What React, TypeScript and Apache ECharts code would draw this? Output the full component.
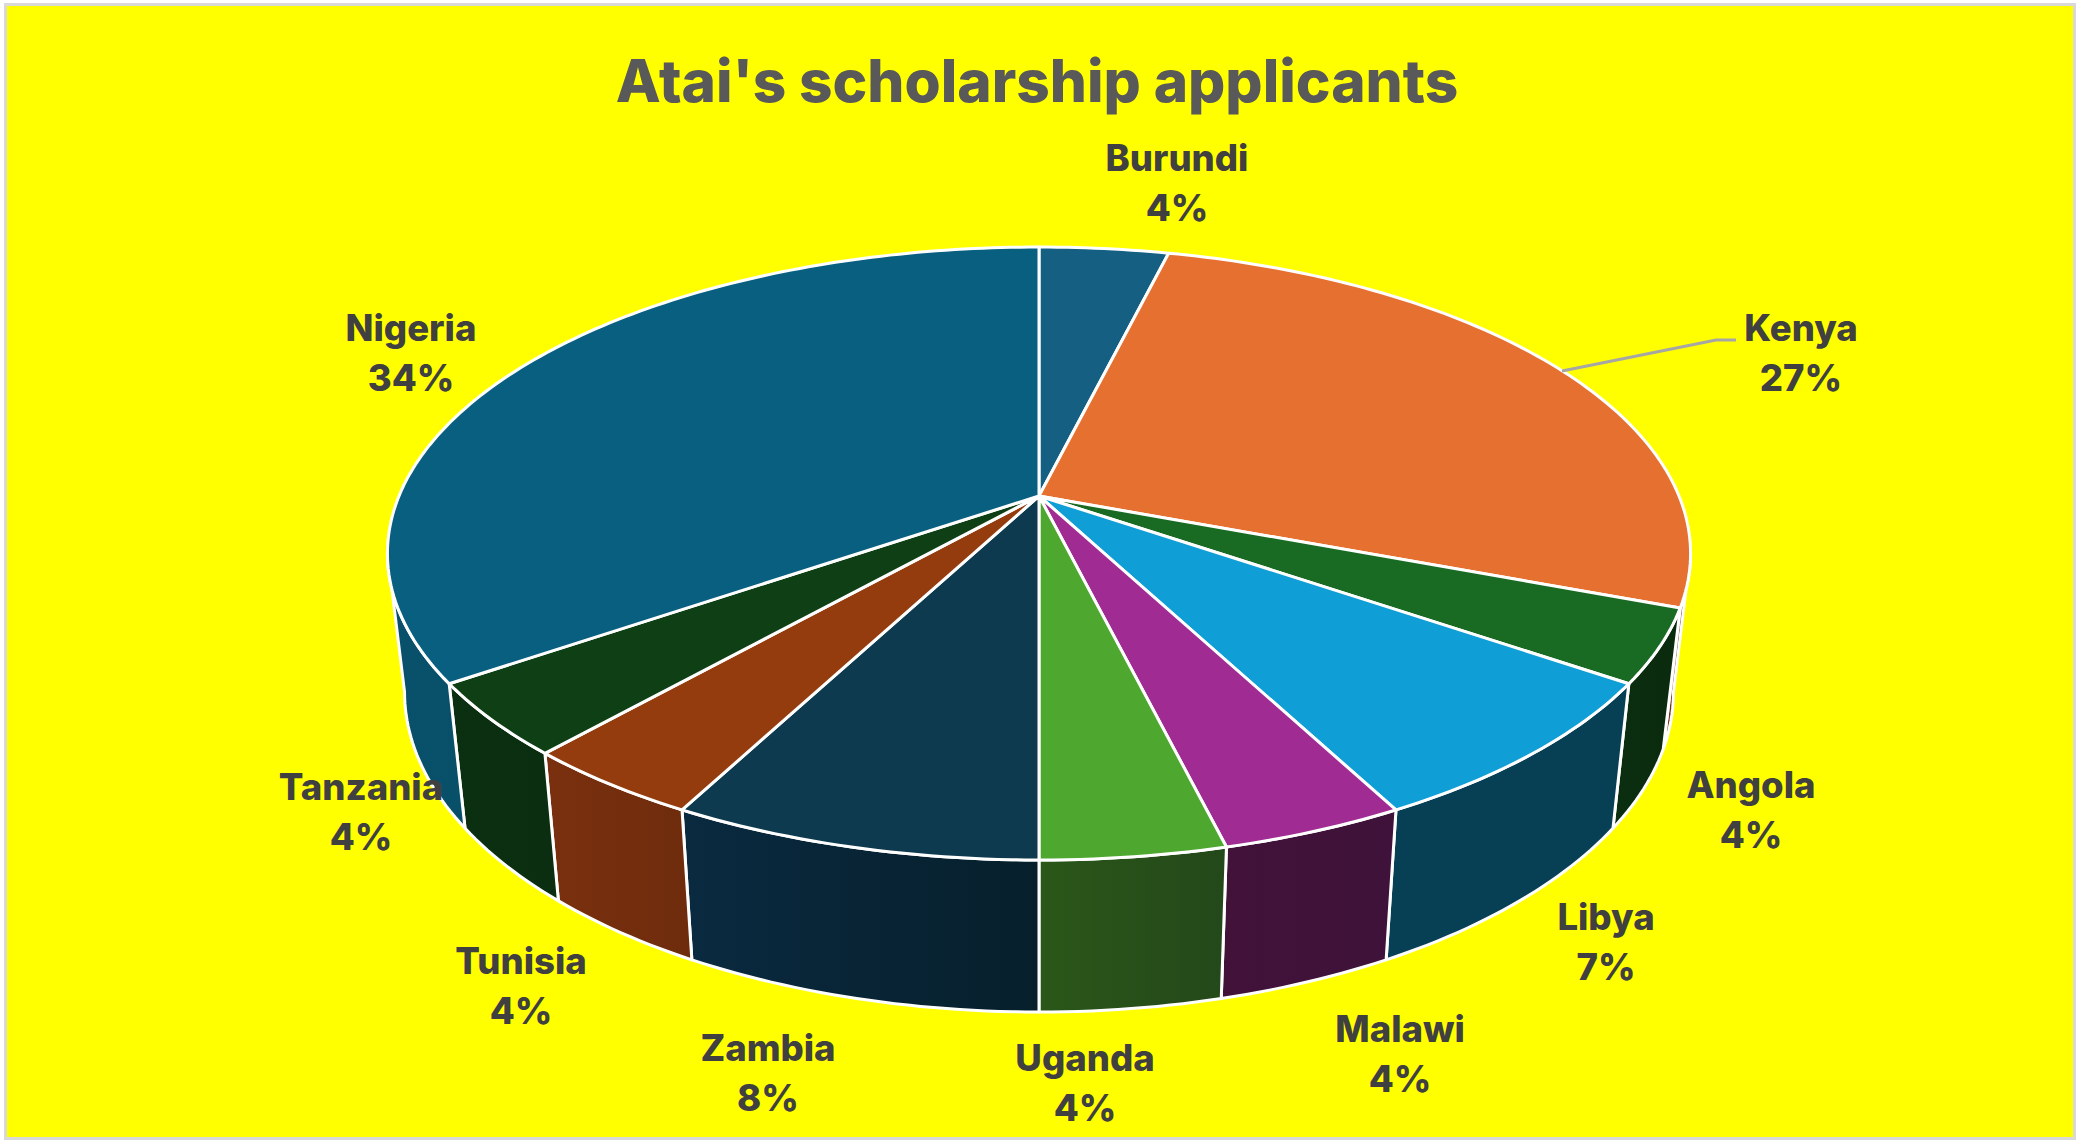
import React, { useEffect, useRef } from "react";
import * as echarts from "echarts";

const countries = ["Burundi", "Kenya", "Angola", "Libya", "Malawi", "Uganda", "Zambia", "Tunisia", "Tanzania", "Nigeria"];
const sliceValues = [3.85, 26.9, 3.85, 7.7, 3.85, 3.85, 7.7, 3.85, 3.85, 34.6];
const percentLabels = ["4%", "27%", "4%", "7%", "4%", "4%", "8%", "4%", "4%", "34%"];
const topColors = ["#156082", "#E6702F", "#196B24", "#0F9ED5", "#A02B93", "#4EA72E", "#0D3A4E", "#943C0E", "#0F3F15", "#095F80"];
const sideLeftColors = ["#0D3A4E", "#6E3316", "#0B2E10", "#073F55", "#421239", "#2B5719", "#0A2A40", "#7A300E", "#0B2F11", "#09506C"];
const sideRightColors = ["#0D3A4E", "#6E3316", "#0B2A0E", "#073F55", "#3E123A", "#23481A", "#061F2B", "#6E2C0D", "#0B2E10", "#084F68"];
const labelX = [1177, 1801, 1751, 1606, 1400, 1085, 768, 521, 361, 411];
const labelY = [183, 353, 810, 942, 1054, 1083, 1073, 986, 812, 353];

const title = "Atai's scholarship applicants";
const FONT = "Inter";

const top = { cx: 1039, y0: 496, a: 640, b: 295.7, p: 0.1876 };
const bottom = { cx: 1039, y0: 632.4, a: 623.4, b: 309, p: 0.186 };
const SILHOUETTE = 100.7;

const total = sliceValues.reduce((s, v) => s + v, 0);
function sliceRange(i: number): [number, number] {
  let before = 0;
  for (let k = 0; k < i; k++) before += sliceValues[k];
  return [(before / total) * 360, ((before + sliceValues[i]) / total) * 360];
}
function project(g: typeof top, deg: number): number[] {
  const t = (deg * Math.PI) / 180;
  const u = Math.sin(t);
  const v = -Math.cos(t);
  const d = 1 - g.p * v;
  return [g.cx + (g.a * u) / d, g.y0 + (g.b * v) / d];
}
function arc(g: typeof top, from: number, to: number): number[][] {
  const n = Math.max(2, Math.ceil(Math.abs(to - from)));
  const pts: number[][] = [];
  for (let k = 0; k <= n; k++) pts.push(project(g, from + ((to - from) * k) / n));
  return pts;
}

const indices = countries.map((_, i) => i);
const WHITE = "#FFFFFF";

export default function App() {
  const ref = useRef<HTMLDivElement>(null);
  useEffect(() => {
    const chart = echarts.init(ref.current!, undefined, { renderer: "svg" });
    chart.setOption({
      animation: false,
      backgroundColor: "#FFFFFF",
      title: {
        text: title,
        left: 1032,
        top: 43,
        textAlign: "center",
        textStyle: { fontFamily: FONT, fontSize: 58.5, fontWeight: 800, color: "#595959", lineHeight: 64 },
      },
      graphic: [
        {
          type: "rect",
          z: -10,
          shape: { x: 5.5, y: 4.5, width: 2069, height: 1134 },
          style: { fill: "#FFFF00", stroke: "#D9D9D9", lineWidth: 3 },
        },
      ],
      series: [
        {
          type: "custom",
          coordinateSystem: "none",
          z: 2,
          silent: true,
          data: indices,
          renderItem: (params: any) => {
            const i = params.dataIndex;
            const [s, e] = sliceRange(i);
            const from = Math.max(s, SILHOUETTE);
            const to = Math.min(e, 360 - SILHOUETTE);
            if (to <= from) return { type: "group", children: [] };
            const points = [...arc(top, from, to), ...arc(bottom, to, from)];
            return {
              type: "polygon",
              shape: { points },
              style: {
                fill: new echarts.graphic.LinearGradient(0, 0, 1, 0, [
                  { offset: 0, color: sideLeftColors[i] },
                  { offset: 1, color: sideRightColors[i] },
                ]),
                stroke: WHITE,
                lineWidth: 3,
                lineJoin: "round",
              },
            };
          },
        },
        {
          type: "custom",
          coordinateSystem: "none",
          z: 3,
          silent: true,
          data: indices,
          renderItem: (params: any) => {
            const i = params.dataIndex;
            const [s, e] = sliceRange(i);
            const points = [[top.cx, top.y0], ...arc(top, s, e)];
            return {
              type: "polygon",
              shape: { points },
              style: { fill: topColors[i], stroke: WHITE, lineWidth: 3, lineJoin: "round" },
            };
          },
        },
        {
          type: "custom",
          coordinateSystem: "none",
          z: 4,
          silent: true,
          data: indices,
          renderItem: (params: any) => {
            const i = params.dataIndex;
            const children: any[] = [
              {
                type: "text",
                style: {
                  text: countries[i] + "\n" + percentLabels[i],
                  x: labelX[i],
                  y: labelY[i],
                  align: "center",
                  verticalAlign: "middle",
                  fontFamily: FONT,
                  fontSize: 36.5,
                  fontWeight: 800,
                  lineHeight: 50,
                  fill: "#404040",
                },
              },
            ];
            if (countries[i] === "Kenya") {
              children.unshift({
                type: "polyline",
                shape: { points: [[1562, 371], [1716, 340], [1736, 340]] },
                style: { stroke: "#A6A6A6", lineWidth: 3, fill: "none" },
              });
            }
            return { type: "group", children };
          },
        },
      ],
    });
    return () => chart.dispose();
  }, []);
  return <div ref={ref} style={{ position: "absolute", left: 0, top: 0, width: 2080, height: 1145 }} />;
}
